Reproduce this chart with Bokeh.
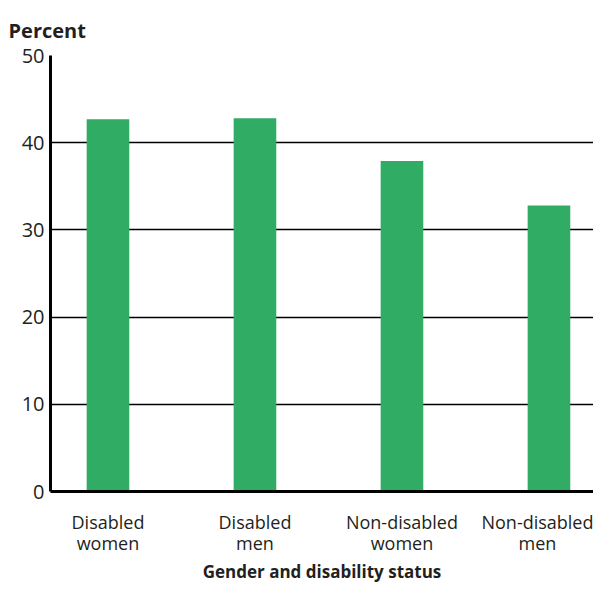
from bokeh.plotting import figure
from bokeh.models import Range1d, FixedTicker, Grid, ColumnDataSource
from bokeh.embed import file_html
from bokeh.resources import INLINE

categories = ["Disabled\nwomen", "Disabled\nmen", "Non-disabled\nwomen", "Non-disabled\nmen"]
values = [42.7, 42.8, 37.9, 32.8]
y_ticks = [0, 10, 20, 30, 40, 50]

positions = [i + 1 for i in range(len(categories))]
src = ColumnDataSource(dict(x=positions, top=values))

FONT = "Open Sans"
TEXT = "#231f20"

p = figure(width=593, height=586, output_backend="svg", toolbar_location=None,
           x_range=Range1d(0.609, 4.303), y_range=Range1d(0, 50),
           min_border_left=50, min_border_right=0, min_border_top=55, min_border_bottom=0)
p.title.text = "Percent"
p.title.align = "left"
p.title.offset = -42
p.title.standoff = 24
p.title.text_font = FONT
p.title.text_font_size = "20px"
p.title.text_font_style = "bold"
p.title.text_color = TEXT

p.vbar(x="x", top="top", width=0.29, source=src, color="#31ac64", line_color=None)

p.outline_line_color = None
p.background_fill_color = "white"

# x axis
p.xaxis.ticker = FixedTicker(ticks=positions)
p.xaxis.major_label_overrides = {pos: cat for pos, cat in zip(positions, categories)}
p.xaxis.axis_line_width = 3
p.xaxis.axis_line_color = "black"
p.xaxis.major_tick_line_color = None
p.xaxis.minor_tick_line_color = None
p.xaxis.major_tick_out = 0
p.xaxis.major_tick_in = 0
p.xaxis.major_label_standoff = 18
p.xaxis.major_label_text_font = FONT
p.xaxis.major_label_text_font_size = "18px"
p.xaxis.major_label_text_line_height = 0.9
p.xaxis.major_label_text_color = TEXT
p.xaxis.axis_label = "Gender and disability status"
p.xaxis.axis_label_text_font = FONT
p.xaxis.axis_label_text_font_size = "17px"
p.xaxis.axis_label_text_font_style = "bold"
p.xaxis.axis_label_text_color = TEXT
p.xaxis.axis_label_standoff = 2

# y axis
p.yaxis.ticker = FixedTicker(ticks=y_ticks)
p.yaxis.axis_line_width = 3
p.yaxis.axis_line_color = "black"
p.yaxis.major_tick_line_color = None
p.yaxis.minor_tick_line_color = None
p.yaxis.major_tick_out = 0
p.yaxis.major_tick_in = 0
p.yaxis.major_label_standoff = 6
p.yaxis.major_label_text_font = FONT
p.yaxis.major_label_text_font_size = "20px"
p.yaxis.major_label_text_color = TEXT

p.xgrid.grid_line_color = None
p.ygrid.ticker = FixedTicker(ticks=y_ticks[1:-1])
p.ygrid.grid_line_color = "black"
p.ygrid.grid_line_width = 1.3
top_grid = Grid(dimension=1, ticker=FixedTicker(ticks=y_ticks[-1:]),
                grid_line_color="#777777", grid_line_width=1.5)
p.add_layout(top_grid)

open("out.html", "w").write(file_html(p, INLINE))
